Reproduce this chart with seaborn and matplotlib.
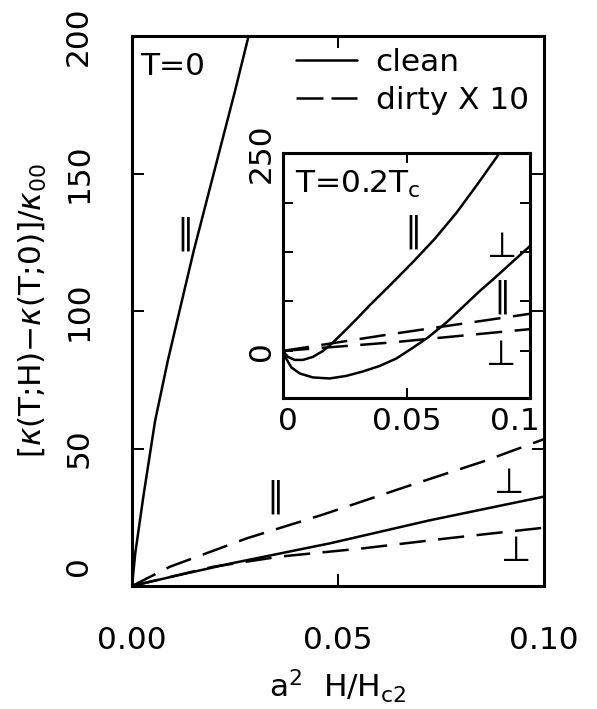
import numpy as np
import pandas as pd
import matplotlib
matplotlib.use("Agg")
import matplotlib.pyplot as plt
import matplotlib.transforms as mtransforms
from matplotlib.lines import Line2D
import seaborn as sns

# ---------------- data ----------------
# main panel, T = 0
main_par_clean_x = [0, 0.0008, 0.0028, 0.0056, 0.0087, 0.012, 0.015, 0.020, 0.025, 0.0283]
main_par_clean_y = [0, 12, 33, 60, 82, 103, 122, 151, 180, 200]
main_perp_clean_x = [0, 0.010, 0.024, 0.048, 0.072, 0.100]
main_perp_clean_y = [0, 3.5, 8.2, 15.5, 23.8, 32.5]
main_par_dirty_x = [0, 0.0092, 0.0278, 0.0464, 0.0659, 0.0853, 0.100]
main_par_dirty_y = [0, 7.0, 17.3, 26.0, 35.8, 45.3, 53.4]
main_perp_dirty_x = [0, 0.0197, 0.0359, 0.0561, 0.0764, 0.100]
main_perp_dirty_y = [0, 7.0, 10.7, 13.7, 17.3, 21.2]

# inset, T = 0.2 Tc
ins_par_clean_x = [0, 0.002, 0.0047, 0.0081, 0.0121, 0.0162, 0.0202, 0.0257, 0.0297,
                   0.0352, 0.0433, 0.0528, 0.0615, 0.0703, 0.0790, 0.0876]
ins_par_clean_y = [0, -7.6, -11.4, -11.4, -7.6, 0, 10.6, 27.4, 40,
                   58, 83, 113, 142, 175, 212, 250]
ins_perp_clean_x = [0, 0.0014, 0.0034, 0.0068, 0.0121, 0.0189, 0.0257, 0.0324, 0.0392,
                    0.0459, 0.0526, 0.0587, 0.0662, 0.0797, 0.0851, 0.100]
ins_perp_clean_y = [0, -10.5, -21, -28.6, -33.6, -34.9, -31.6, -26, -19,
                    -9.6, 4, 17, 36, 75.9, 90.6, 132.7]
ins_par_dirty_x = [0, 0.0433, 0.0926, 0.100]
ins_par_dirty_y = [0, 21.0, 43.5, 47.0]
ins_perp_dirty_x = [0, 0.0433, 0.0926, 0.100]
ins_perp_dirty_y = [0, 10.5, 25.3, 27.5]

main_xticks = [0, 0.05, 0.10]
main_xticklabels = ["0.00", "0.05", "0.10"]
main_yticks = [0, 50, 100, 150, 200]
main_yticklabels = ["0", "50", "100", "150", "200"]
ins_xticks = [0, 0.05, 0.1]
ins_xticklabels = ["0", "0.05", "0.1"]
ins_yticks = [0, 62.5, 125, 187.5, 250]
ins_yticklabels = ["0", "", "", "", "250"]

legend_labels = ["clean", "dirty X 10"]

# ---------------- style ----------------
sns.set_theme(style="ticks")
plt.rcParams["font.family"] = ["DejaVu Sans"]
plt.rcParams["mathtext.fontset"] = "dejavusans"
for k in ("text.color", "axes.labelcolor", "xtick.color", "ytick.color", "axes.edgecolor"):
    plt.rcParams[k] = "black"
FS = 22.5
SYM = 25
LW = 1.8
DASH = (0, (10.5, 5))

fig = plt.figure(figsize=(5.97, 7.09), dpi=100)
W, H = 597, 709
ax = fig.add_axes([132 / W, 1 - 586 / H, (544 - 132) / W, (586 - 36) / H])
axi = fig.add_axes([283 / W, 1 - 398.3 / H, (530 - 283) / W, (398.3 - 153.3) / H])


def line(a, x, y, dashed):
    df = pd.DataFrame({"x": x, "y": y})
    kw = dict(linestyle=DASH) if dashed else dict(linestyle="-")
    sns.lineplot(data=df, x="x", y="y", ax=a, color="black", linewidth=LW,
                 sort=False, estimator=None, **kw)


line(ax, main_par_clean_x, main_par_clean_y, False)
line(ax, main_perp_clean_x, main_perp_clean_y, False)
line(ax, main_par_dirty_x, main_par_dirty_y, True)
line(ax, main_perp_dirty_x, main_perp_dirty_y, True)

line(axi, ins_par_clean_x, ins_par_clean_y, False)
line(axi, ins_perp_clean_x, ins_perp_clean_y, False)
line(axi, ins_par_dirty_x, ins_par_dirty_y, True)
line(axi, ins_perp_dirty_x, ins_perp_dirty_y, True)

for a in (ax, axi):
    for s in a.spines.values():
        s.set_linewidth(2.2)
        s.set_color("black")
        s.set_visible(True)
    a.set_facecolor("white")

# main axes
ax.set_xlim(0, 0.1)
ax.set_ylim(0, 200)
ax.set_xticks(main_xticks)
ax.set_xticklabels(main_xticklabels)
ax.set_yticks(main_yticks)
ax.set_yticklabels(main_yticklabels, rotation=90, va="center")
ax.tick_params(direction="in", length=8.6, width=1.4, top=True, right=True,
               labelsize=FS, color="black")
ax.tick_params(axis="x", pad=29)
ax.tick_params(axis="y", pad=28)
ax.set_xlabel(r"a$^2$  H/H$_{\rm c2}$", fontsize=FS, labelpad=9)
ax.set_ylabel(r"[$\kappa$(T;H)$-\kappa$(T;0)]/$\kappa_{00}$", fontsize=FS, labelpad=11)
# lift the bottom "0" so it clears "0.00"
lbl0 = ax.get_yticklabels()[0]
lbl0.set_transform(lbl0.get_transform() +
                   mtransforms.ScaledTranslation(0, 20 / 100, fig.dpi_scale_trans))

# inset axes
axi.set_xlim(0, 0.1)
axi.set_ylim(-60, 250)
axi.set_xticks(ins_xticks)
axi.set_xticklabels(ins_xticklabels)
axi.set_yticks(ins_yticks)
axi.set_yticklabels(ins_yticklabels, rotation=90, va="center")
axi.tick_params(direction="in", length=7, width=1.4, top=True, right=True,
                labelsize=FS, color="black")
axi.tick_params(axis="x", pad=6)
axi.tick_params(axis="y", pad=5)
axi.set_xlabel("")
axi.set_ylabel("")
xl = axi.get_xticklabels()
xl[0].set_transform(xl[0].get_transform() +
                    mtransforms.ScaledTranslation(5 / 100, 0, fig.dpi_scale_trans))
xl[2].set_transform(xl[2].get_transform() +
                    mtransforms.ScaledTranslation(-15 / 100, 0, fig.dpi_scale_trans))

# annotations
ax.text(0.02, 0.944, "T=0", transform=ax.transAxes, fontsize=FS, va="center", ha="left")
ax.text(0.130, 0.64, "\u2225", transform=ax.transAxes, fontsize=SYM, va="center", ha="center")
ax.text(0.347, 0.162, "\u2225", transform=ax.transAxes, fontsize=SYM, va="center", ha="center")
ax.text(0.915, 0.187, "\u22a5", transform=ax.transAxes, fontsize=SYM, va="center", ha="center")
ax.text(0.932, 0.064, "\u22a5", transform=ax.transAxes, fontsize=SYM, va="center", ha="center")

axi.text(0.049, 0.871, r"T=0.2T$_{\rm c}$", transform=axi.transAxes, fontsize=FS,
         va="center", ha="left")
axi.text(0.528, 0.68, "\u2225", transform=axi.transAxes, fontsize=SYM, va="center", ha="center")
axi.text(0.889, 0.619, "\u22a5", transform=axi.transAxes, fontsize=SYM, va="center", ha="center")
axi.text(0.885, 0.415, "\u2225", transform=axi.transAxes, fontsize=SYM, va="center", ha="center")
axi.text(0.885, 0.177, "\u22a5", transform=axi.transAxes, fontsize=SYM, va="center", ha="center")

# legend
handles = [Line2D([], [], color="black", lw=LW, linestyle="-"),
           Line2D([], [], color="black", lw=LW, linestyle=(0, (10.8, 3.2)))]
leg = ax.legend(handles, legend_labels, loc="upper left",
                bbox_to_anchor=(296 / W, 1 - 48 / H), bbox_transform=fig.transFigure,
                frameon=False, fontsize=FS, handlelength=1.95, handletextpad=0.6,
                labelspacing=0.3, borderpad=0, borderaxespad=0)

fig.savefig("out.png", dpi=100)
